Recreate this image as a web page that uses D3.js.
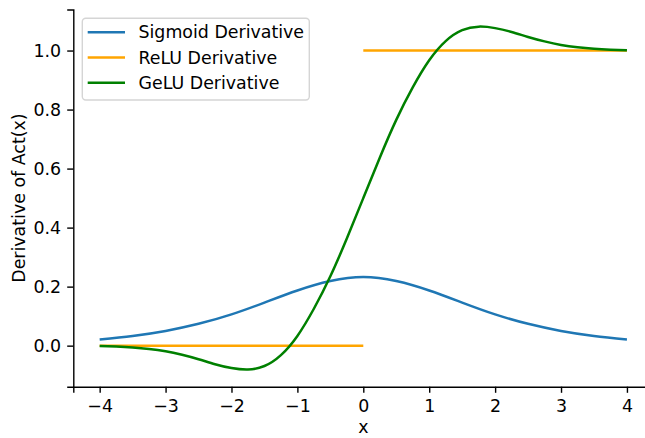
<!DOCTYPE html>
<html>
<head>
<meta charset="utf-8">
<script src="https://cdn.jsdelivr.net/npm/d3@7"></script>
<style>
  body { margin: 0; background: #fff; }
  svg text { font-family: "DejaVu Sans", sans-serif; fill: #000; }
</style>
</head>
<body>
<svg id="chart" width="645" height="438"></svg>
<script>
// values
const sigmoidX = [-4, -3.5, -3, -2.5, -2, -1.5, -1, -0.5, 0, 0.5, 1, 1.5, 2, 2.5, 3, 3.5, 4]
const sigmoidY = [0.021, 0.033, 0.050, 0.074, 0.106, 0.146, 0.187, 0.219, 0.233, 0.219, 0.187, 0.146, 0.106, 0.074, 0.050, 0.033, 0.021]

const reluX = [-4, 0, 0, 0, 4]
const reluY = [0, 0, null, 1, 1]

const geluX = [-4, -3.75, -3.5, -3.25, -3, -2.75, -2.5, -2.25, -2, -1.75, -1.5, -1.25, -1, -0.75, -0.5, -0.25,
  0, 0.25, 0.5, 0.75, 1, 1.25, 1.5, 1.75, 2, 2.25, 2.5, 2.75, 3, 3.25, 3.5, 3.75, 4]
const geluY = [-0.001, -0.003, -0.006, -0.011, -0.019, -0.031, -0.046, -0.063, -0.076, -0.081, -0.069, -0.032, 0.033, 0.125, 0.235, 0.363,
  0.500, 0.637, 0.765, 0.875, 0.967, 1.032, 1.069, 1.081, 1.076, 1.063, 1.046, 1.031, 1.019, 1.011, 1.006, 1.003, 1.001]

const xTicks = [-4, -3, -2, -1, 0, 1, 2, 3, 4]
const yTicks = [0.0, 0.2, 0.4, 0.6, 0.8, 1.0]

const series = [
  { name: "Sigmoid Derivative", xs: sigmoidX, ys: sigmoidY, color: "#1f77b4" },
  { name: "ReLU Derivative", xs: reluX, ys: reluY, color: "orange" },
  { name: "GeLU Derivative", xs: geluX, ys: geluY, color: "green" }
]

const svg = d3.select("#chart")
const margin = { left: 73.3, top: 9.5, right: 653.3, bottom: 386.7 }
const fontSize = 17.4
const tickLen = 6.1

// matplotlib-like 5% margins around the data
const allX = series.flatMap(s => s.xs)
const allY = series.flatMap(s => s.ys).filter(v => v !== null)
const [x0, x1] = d3.extent(allX)
const [y0, y1] = d3.extent(allY)
const padX = (x1 - x0) * 0.05
const padY = (y1 - y0) * 0.05

const x = d3.scaleLinear().domain([x0 - padX, x1 + padX]).range([margin.left, margin.right])
const y = d3.scaleLinear().domain([y0 - padY, y1 + padY]).range([margin.bottom, margin.top])

const fmtX = d => (d < 0 ? "\u2212" + Math.abs(d) : String(d))

// x axis
const xAxis = svg.append("g")
  .attr("transform", `translate(0,${margin.bottom})`)
  .call(d3.axisBottom(x).tickValues(xTicks).tickFormat(fmtX).tickSizeOuter(0).tickSize(tickLen).tickPadding(tickLen))
xAxis.select(".domain").attr("stroke", "#000").attr("stroke-width", 1.4)
xAxis.selectAll(".tick line").attr("stroke", "#000").attr("stroke-width", 1.4)
xAxis.selectAll(".tick text")
  .attr("y", 25.8).attr("dy", null)
  .style("font-size", fontSize + "px")

// y axis
const yAxis = svg.append("g")
  .attr("transform", `translate(${margin.left},0)`)
  .call(d3.axisLeft(y).tickValues(yTicks).tickFormat(d3.format(".1f")).tickSizeOuter(0).tickSize(tickLen).tickPadding(tickLen))
yAxis.select(".domain").attr("stroke", "#000").attr("stroke-width", 1.4)
yAxis.selectAll(".tick line").attr("stroke", "#000").attr("stroke-width", 1.4)
yAxis.selectAll(".tick text")
  .attr("dy", "0.34em")
  .style("font-size", fontSize + "px")

svg.selectAll("g").attr("font-family", null)

// axis labels
svg.append("text")
  .attr("x", x(0))
  .attr("y", 433)
  .attr("text-anchor", "middle")
  .style("font-size", fontSize + "px")
  .text("x")

svg.append("text")
  .attr("transform", `translate(25,${(margin.top + margin.bottom) / 2}) rotate(-90)`)
  .attr("text-anchor", "middle")
  .style("font-size", fontSize + "px")
  .text("Derivative of Act(x)")

// curves
const plot = svg.append("g")
series.forEach(s => {
  const pts = s.xs.map((v, i) => [v, s.ys[i]])
  const line = d3.line()
    .defined(d => d[1] !== null)
    .x(d => x(d[0]))
    .y(d => y(d[1]))
    .curve(s.name.startsWith("ReLU") ? d3.curveLinear : d3.curveNatural)
  plot.append("path")
    .datum(pts)
    .attr("fill", "none")
    .attr("stroke", s.color)
    .attr("stroke-width", 2.5)
    .attr("stroke-linecap", "butt")
    .attr("stroke-linejoin", "round")
    .attr("d", line)
})

// legend
const legend = svg.append("g")
legend.append("rect")
  .attr("x", 82.3).attr("y", 18.3)
  .attr("width", 227).attr("height", 81.7)
  .attr("rx", 3.5).attr("ry", 3.5)
  .attr("fill", "#fff").attr("fill-opacity", 0.8)
  .attr("stroke", "#d5d5d5").attr("stroke-width", 1.4)

series.forEach((s, i) => {
  const ly = 32.3 + i * 25.2
  legend.append("line")
    .attr("x1", 87.7).attr("x2", 125)
    .attr("y1", ly).attr("y2", ly)
    .attr("stroke", s.color).attr("stroke-width", 2.5)
  legend.append("text")
    .attr("x", 138.5).attr("y", ly + 6)
    .style("font-size", fontSize + "px")
    .text(s.name)
})
</script>
</body>
</html>
